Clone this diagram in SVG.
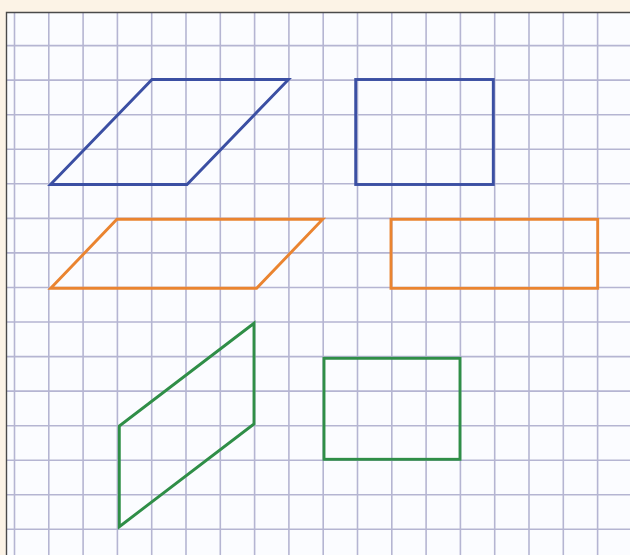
<svg xmlns="http://www.w3.org/2000/svg" width="630" height="555" viewBox="0 0 630 555">
  <defs>
    <style>
      .grid line { stroke: #b5b5d2; stroke-width: 1.6; }
      .shape { fill: none; stroke-width: 2.9; stroke-linejoin: miter; }
      .blue { stroke: #3b4fa3; }
      .orange { stroke: #ea8430; }
      .green { stroke: #2f8e47; }
    </style>
  </defs>
  <rect x="0" y="0" width="630" height="555" fill="#fcf3e6"/>
  <rect x="6.5" y="12.5" width="630" height="550" fill="#fbfcff"/>
  <g class="grid" id="grid">
    <line x1="14.5" y1="12.5" x2="14.5" y2="555"/>
    <line x1="48.8" y1="12.5" x2="48.8" y2="555"/>
    <line x1="83.1" y1="12.5" x2="83.1" y2="555"/>
    <line x1="117.4" y1="12.5" x2="117.4" y2="555"/>
    <line x1="151.7" y1="12.5" x2="151.7" y2="555"/>
    <line x1="186" y1="12.5" x2="186" y2="555"/>
    <line x1="220.3" y1="12.5" x2="220.3" y2="555"/>
    <line x1="254.6" y1="12.5" x2="254.6" y2="555"/>
    <line x1="288.9" y1="12.5" x2="288.9" y2="555"/>
    <line x1="323.2" y1="12.5" x2="323.2" y2="555"/>
    <line x1="357.5" y1="12.5" x2="357.5" y2="555"/>
    <line x1="391.8" y1="12.5" x2="391.8" y2="555"/>
    <line x1="426.1" y1="12.5" x2="426.1" y2="555"/>
    <line x1="460.4" y1="12.5" x2="460.4" y2="555"/>
    <line x1="494.7" y1="12.5" x2="494.7" y2="555"/>
    <line x1="529" y1="12.5" x2="529" y2="555"/>
    <line x1="563.3" y1="12.5" x2="563.3" y2="555"/>
    <line x1="597.6" y1="12.5" x2="597.6" y2="555"/>
    <line x1="6.5" y1="45.6" x2="630" y2="45.6"/>
    <line x1="6.5" y1="80.1" x2="630" y2="80.1"/>
    <line x1="6.5" y1="114.7" x2="630" y2="114.7"/>
    <line x1="6.5" y1="149.2" x2="630" y2="149.2"/>
    <line x1="6.5" y1="183.8" x2="630" y2="183.8"/>
    <line x1="6.5" y1="218.4" x2="630" y2="218.4"/>
    <line x1="6.5" y1="252.9" x2="630" y2="252.9"/>
    <line x1="6.5" y1="287.5" x2="630" y2="287.5"/>
    <line x1="6.5" y1="322" x2="630" y2="322"/>
    <line x1="6.5" y1="356.6" x2="630" y2="356.6"/>
    <line x1="6.5" y1="391.1" x2="630" y2="391.1"/>
    <line x1="6.5" y1="425.7" x2="630" y2="425.7"/>
    <line x1="6.5" y1="460.2" x2="630" y2="460.2"/>
    <line x1="6.5" y1="494.8" x2="630" y2="494.8"/>
    <line x1="6.5" y1="529.3" x2="630" y2="529.3"/>
  </g>
  <path d="M6.5,555 V12.5 H630" fill="none" stroke="#4a4a4a" stroke-width="1.4"/>
  <g id="blue-parallelogram">
    <polygon class="shape blue" points="50.5,184.5 152,79.5 288.5,79.5 187,184.5"/>
  </g>
  <g id="blue-rectangle">
    <rect class="shape blue" x="355.7" y="79.5" width="137.6" height="105"/>
  </g>
  <g id="orange-parallelogram">
    <polygon class="shape orange" points="50.7,288.3 116.9,219.3 322.7,219.3 256.6,288.3"/>
  </g>
  <g id="orange-rectangle">
    <rect class="shape orange" x="391" y="219.3" width="206.7" height="69"/>
  </g>
  <g id="green-parallelogram">
    <polygon class="shape green" points="119.3,526.7 119.3,426 254,323.3 254,424"/>
  </g>
  <g id="green-rectangle">
    <rect class="shape green" x="324" y="358.3" width="136" height="101"/>
  </g>
</svg>
